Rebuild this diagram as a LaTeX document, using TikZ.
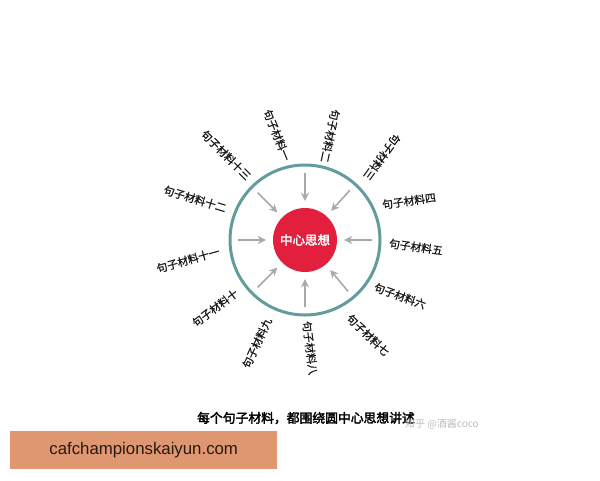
\documentclass[tikz,border=0pt]{standalone}
\usepackage{fontspec}
\usetikzlibrary{arrows.meta,calc}
\newfontfamily\cjk{Noto Sans CJK SC}
\newfontfamily\cjkm[FakeBold=0.8]{Noto Sans CJK SC}
\newfontfamily\cjkb[FakeBold=2.5]{Noto Sans CJK SC}
\newfontfamily\latinsans{Liberation Sans}
\definecolor{ringcol}{HTML}{649C9E}
\definecolor{corecol}{HTML}{E21F3D}
\definecolor{arrcol}{HTML}{A9A9A9}
\definecolor{boxcol}{HTML}{DF9772}
\definecolor{wmcol}{HTML}{BDBDBD}
\tikzset{
  lbl/.style={font=\cjkm\fontsize{10.8}{12}\selectfont, inner sep=0pt, text=black!90},
  arr/.style={draw=arrcol, line width=1.6pt, -{Stealth[length=8pt,width=8pt,inset=2.5pt]}, shorten >=7pt},
}
\begin{document}
\begin{tikzpicture}[x=1pt,y=-1pt]
\useasboundingbox (0,0) rectangle (600,480);
\fill[white] (0,0) rectangle (600,480);
\node[circle, draw=ringcol, line width=3pt, minimum size=150pt, inner sep=0pt] (ring) at (305,240) {};
\node[circle, fill=corecol, minimum size=64pt, inner sep=0pt, text=white, font=\cjkb\fontsize{12.5}{14}\selectfont] (core) at (305,240) {中心思想};
\foreach \a [count=\i] in {-90,-135,-48,180,0,90,135,50} {
  \coordinate (s\i) at ($(core.center)+(\a:67)$);
  \draw[arr] (s\i) -- (core);
}
\node[lbl, rotate=-45]  (m13) at (226,155) {句子材料十三};
\node[lbl, rotate=-68]  (m1)  at (277,135) {句子材料一};
\node[lbl, rotate=-102] (m2)  at (330,136) {句子材料二};
\node[lbl, rotate=-126] (m3)  at (382,157) {句子材料三};
\node[lbl, rotate=8]    (m4)  at (409,201) {句子材料四};
\node[lbl, rotate=-8]   (m5)  at (416,247) {句子材料五};
\node[lbl, rotate=-20]  (m6)  at (400,296) {句子材料六};
\node[lbl, rotate=-44]  (m7)  at (368,335) {句子材料七};
\node[lbl, rotate=-83]  (m8)  at (310,348) {句子材料八};
\node[lbl, rotate=65]   (m9)  at (257,343) {句子材料九};
\node[lbl, rotate=37]   (m10) at (215,308) {句子材料十};
\node[lbl, rotate=16]   (m11) at (188,260) {句子材料十一};
\node[lbl, rotate=-17]  (m12) at (195,199) {句子材料十二};
\node[font=\cjkb\fontsize{12.8}{14}\selectfont, inner sep=0pt] (cap) at (306,418) {每个句子材料，都围绕圆中心思想讲述};
\node[font=\cjk\fontsize{10}{12}\selectfont, text=wmcol, anchor=west, inner sep=0pt] (wm) at (405,424) {知乎 @酒酱coco};
\node[fill=boxcol, minimum width=267pt, minimum height=38pt, anchor=north west, inner sep=0pt,
      font=\latinsans\fontsize{16.8}{18}\selectfont, text={black!80!brown}] (box) at (10,431) {cafchampionskaiyun.com};
\end{tikzpicture}
\end{document}
